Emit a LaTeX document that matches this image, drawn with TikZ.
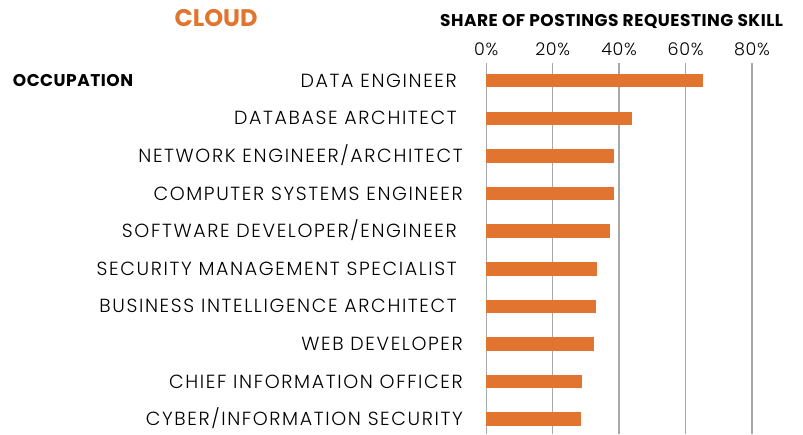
\documentclass[tikz,border=0pt]{standalone}
\usepackage{fontspec}
\setmainfont{Poppins}
\newfontfamily\widefont[LetterSpace=8.5,UprightFont=* Light]{Poppins}
\newfontfamily\tickfont[LetterSpace=4,UprightFont=* Light]{Poppins}
\newfontfamily\headfont[LetterSpace=3]{Poppins}
\usepackage{tikz}
\usetikzlibrary{positioning}
\definecolor{CloudOrange}{RGB}{225,117,48}
\definecolor{GridGray}{RGB}{168,168,168}

\tikzset{
  occlabel/.style={anchor=base east,inner sep=0pt,color=black,font=\widefont\fontsize{19}{21}\selectfont},
  ticklabel/.style={anchor=base,inner sep=0pt,color=black,font=\tickfont\fontsize{17.5}{19}\selectfont},
  headlabel/.style={inner sep=0pt,color=black,font=\headfont\bfseries\fontsize{17}{19}\selectfont},
  gridline/.style={color=GridGray,line width=1.3pt},
  bar/.style={fill=CloudOrange,draw=none}
}

\begin{document}
\begin{tikzpicture}[x=1pt,y=-1pt,line cap=butt]
\useasboundingbox (0,0) rectangle (803,434);

% headings
\draw (216,26) node[headlabel,anchor=base,color=CloudOrange,font=\bfseries\fontsize{24}{26}\selectfont](cloud){CLOUD};
\draw (12.7,86.7) node[headlabel,anchor=base west](occ){OCCUPATION};
\draw (440,26.7) node[headlabel,anchor=base west](share){SHARE OF POSTINGS REQUESTING SKILL};

% axis in percent
\begin{scope}[xshift=486.3pt,x=3.32pt]
\draw[gridline] (0,63) -- (0,434);
\draw[gridline] (20,63) -- (20,434);
\draw[gridline] (40,63) -- (40,434);
\draw[gridline] (60,63) -- (60,434);
\draw[gridline] (80,63) -- (80,434);

\draw (0,55.7) node[ticklabel](t0){0\%};
\draw (20,55.7) node[ticklabel](t20){20\%};
\draw (40,55.7) node[ticklabel](t40){40\%};
\draw (60,55.7) node[ticklabel](t60){60\%};
\draw (80,55.7) node[ticklabel](t80){80\%};

\path[bar] (0,74.0) rectangle (65.4,87.3);
\path[bar] (0,111.7) rectangle (43.8,125.0);
\path[bar] (0,149.4) rectangle (38.6,162.7);
\path[bar] (0,186.9) rectangle (38.4,200.2);
\path[bar] (0,224.4) rectangle (37.2,237.7);
\path[bar] (0,262.4) rectangle (33.4,275.7);
\path[bar] (0,299.7) rectangle (32.9,313.0);
\path[bar] (0,337.4) rectangle (32.3,350.7);
\path[bar] (0,375.1) rectangle (28.8,388.4);
\path[bar] (0,412.4) rectangle (28.5,425.7);
\end{scope}

% occupations
\draw (457,87.3) node[occlabel](dataeng){DATA ENGINEER};
\draw (457,124.9) node[occlabel](dbarch){DATABASE ARCHITECT};
\draw (463,162.6) node[occlabel](netarch){NETWORK ENGINEER/ARCHITECT};
\draw (463,200.1) node[occlabel](compsys){COMPUTER SYSTEMS ENGINEER};
\draw (457,237.6) node[occlabel](softdev){SOFTWARE DEVELOPER/ENGINEER};
\draw (457,275.6) node[occlabel](secmgmt){SECURITY MANAGEMENT SPECIALIST};
\draw (457,312.9) node[occlabel](bizint){BUSINESS INTELLIGENCE ARCHITECT};
\draw (463,350.6) node[occlabel](webdev){WEB DEVELOPER};
\draw (463,388.3) node[occlabel](cio){CHIEF INFORMATION OFFICER};
\draw (463,425.6) node[occlabel](cyber){CYBER/INFORMATION SECURITY};
\end{tikzpicture}
\end{document}
